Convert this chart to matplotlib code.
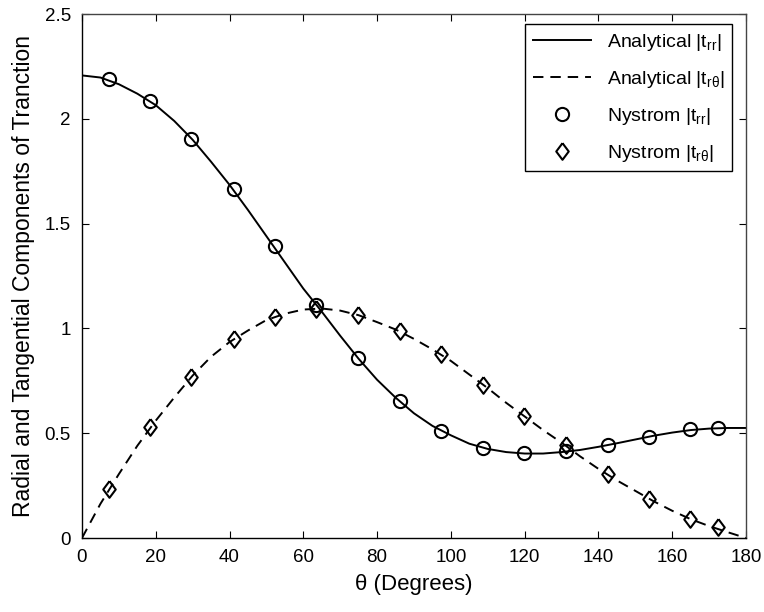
import matplotlib
matplotlib.use("Agg")
import matplotlib.pyplot as plt
import numpy as np

plt.rcParams["font.family"] = ["Liberation Sans", "DejaVu Sans"]
plt.rcParams["mathtext.fontset"] = "custom"
plt.rcParams["mathtext.rm"] = "Liberation Sans"
plt.rcParams["mathtext.it"] = "Liberation Sans"
plt.rcParams["lines.scale_dashes"] = False

# analytical curves, read every 5 degrees
theta_curve = [0, 5, 10, 15, 20, 25, 30, 35, 40, 45, 50, 55, 60, 65, 70, 75, 80, 85, 90,
               95, 100, 105, 110, 115, 120, 125, 130, 135, 140, 145, 150, 155, 160, 165,
               170, 175, 180]
trr_curve = [2.207, 2.197, 2.165, 2.12, 2.065, 1.99, 1.90, 1.795, 1.685, 1.565, 1.44,
             1.315, 1.19, 1.08, 0.965, 0.855, 0.755, 0.67, 0.595, 0.535, 0.49, 0.45,
             0.425, 0.41, 0.403, 0.403, 0.41, 0.42, 0.435, 0.452, 0.47, 0.488, 0.503,
             0.515, 0.522, 0.525, 0.525]
trt_curve = [0.0, 0.163, 0.305, 0.44, 0.56, 0.67, 0.775, 0.865, 0.935, 0.99, 1.04, 1.07,
             1.09, 1.095, 1.085, 1.063, 1.03, 0.995, 0.95, 0.9, 0.845, 0.78, 0.715, 0.645,
             0.58, 0.515, 0.455, 0.39, 0.33, 0.275, 0.225, 0.175, 0.13, 0.09, 0.057,
             0.028, 0.0]

# Nystrom samples
theta_pts = [7.2, 18.5, 29.6, 41.1, 52.2, 63.5, 74.7, 86.1, 97.3, 108.7, 119.8, 131.2,
             142.5, 153.7, 164.9, 172.5]
trr_pts = [2.19, 2.086, 1.905, 1.664, 1.392, 1.112, 0.86, 0.654, 0.509, 0.429, 0.405,
           0.414, 0.445, 0.483, 0.519, 0.526]
trt_pts = [0.235, 0.53, 0.767, 0.949, 1.056, 1.094, 1.065, 0.986, 0.876, 0.73, 0.582,
           0.444, 0.304, 0.188, 0.089, 0.051]

diamond = [(0, 1), (0.75, 0), (0, -1), (-0.75, 0), (0, 1)]

fig = plt.figure(figsize=(7.64, 6.12), dpi=100)
ax = fig.add_axes([0.1073, 0.1209, 0.8691, 0.8562])

ax.plot(theta_curve, trr_curve, "-", color="k", lw=1.4, label=r"Analytical |t$_{\mathrm{rr}}$|")
ax.plot(theta_curve, trt_curve, "--", color="k", lw=1.4, dashes=(7.5, 5),
        label=r"Analytical |t$_{\mathrm{r}θ}$|")
ax.plot(theta_pts, trr_pts, "o", ms=9.5, mfc="none", mec="k", mew=1.5,
        label=r"Nystrom |t$_{\mathrm{rr}}$|")
ax.plot(theta_pts, trt_pts, ls="none", marker=diamond, ms=12, mfc="none", mec="k", mew=1.5,
        label=r"Nystrom |t$_{\mathrm{r}θ}$|")

ax.set_xlim(0, 180)
ax.set_ylim(0, 2.5)
ax.set_xticks(np.arange(0, 181, 20))
ax.set_yticks([0, 0.5, 1, 1.5, 2, 2.5])
ax.set_yticklabels(["0", "0.5", "1", "1.5", "2", "2.5"])
ax.tick_params(direction="in", top=True, right=True, length=5, width=0.8,
               labelsize=13.5, pad=8)
for s in ax.spines.values():
    s.set_linewidth(1.0)
ax.spines["top"].set_color("#444444")
ax.spines["right"].set_color("#444444")

ax.set_xlabel("θ (Degrees)", fontsize=16, labelpad=6)
ax.set_ylabel("Radial and Tangential Components of Tranction", fontsize=16.5, labelpad=7)

leg = ax.legend(loc="upper right", bbox_to_anchor=(0.979, 0.981), borderaxespad=0,
                fontsize=14, frameon=True, fancybox=False, framealpha=1, edgecolor="k",
                handlelength=3.0, labelspacing=0.82, borderpad=0.4, handletextpad=0.8)
leg.get_frame().set_linewidth(1.0)

fig.savefig("out.png", dpi=100)
